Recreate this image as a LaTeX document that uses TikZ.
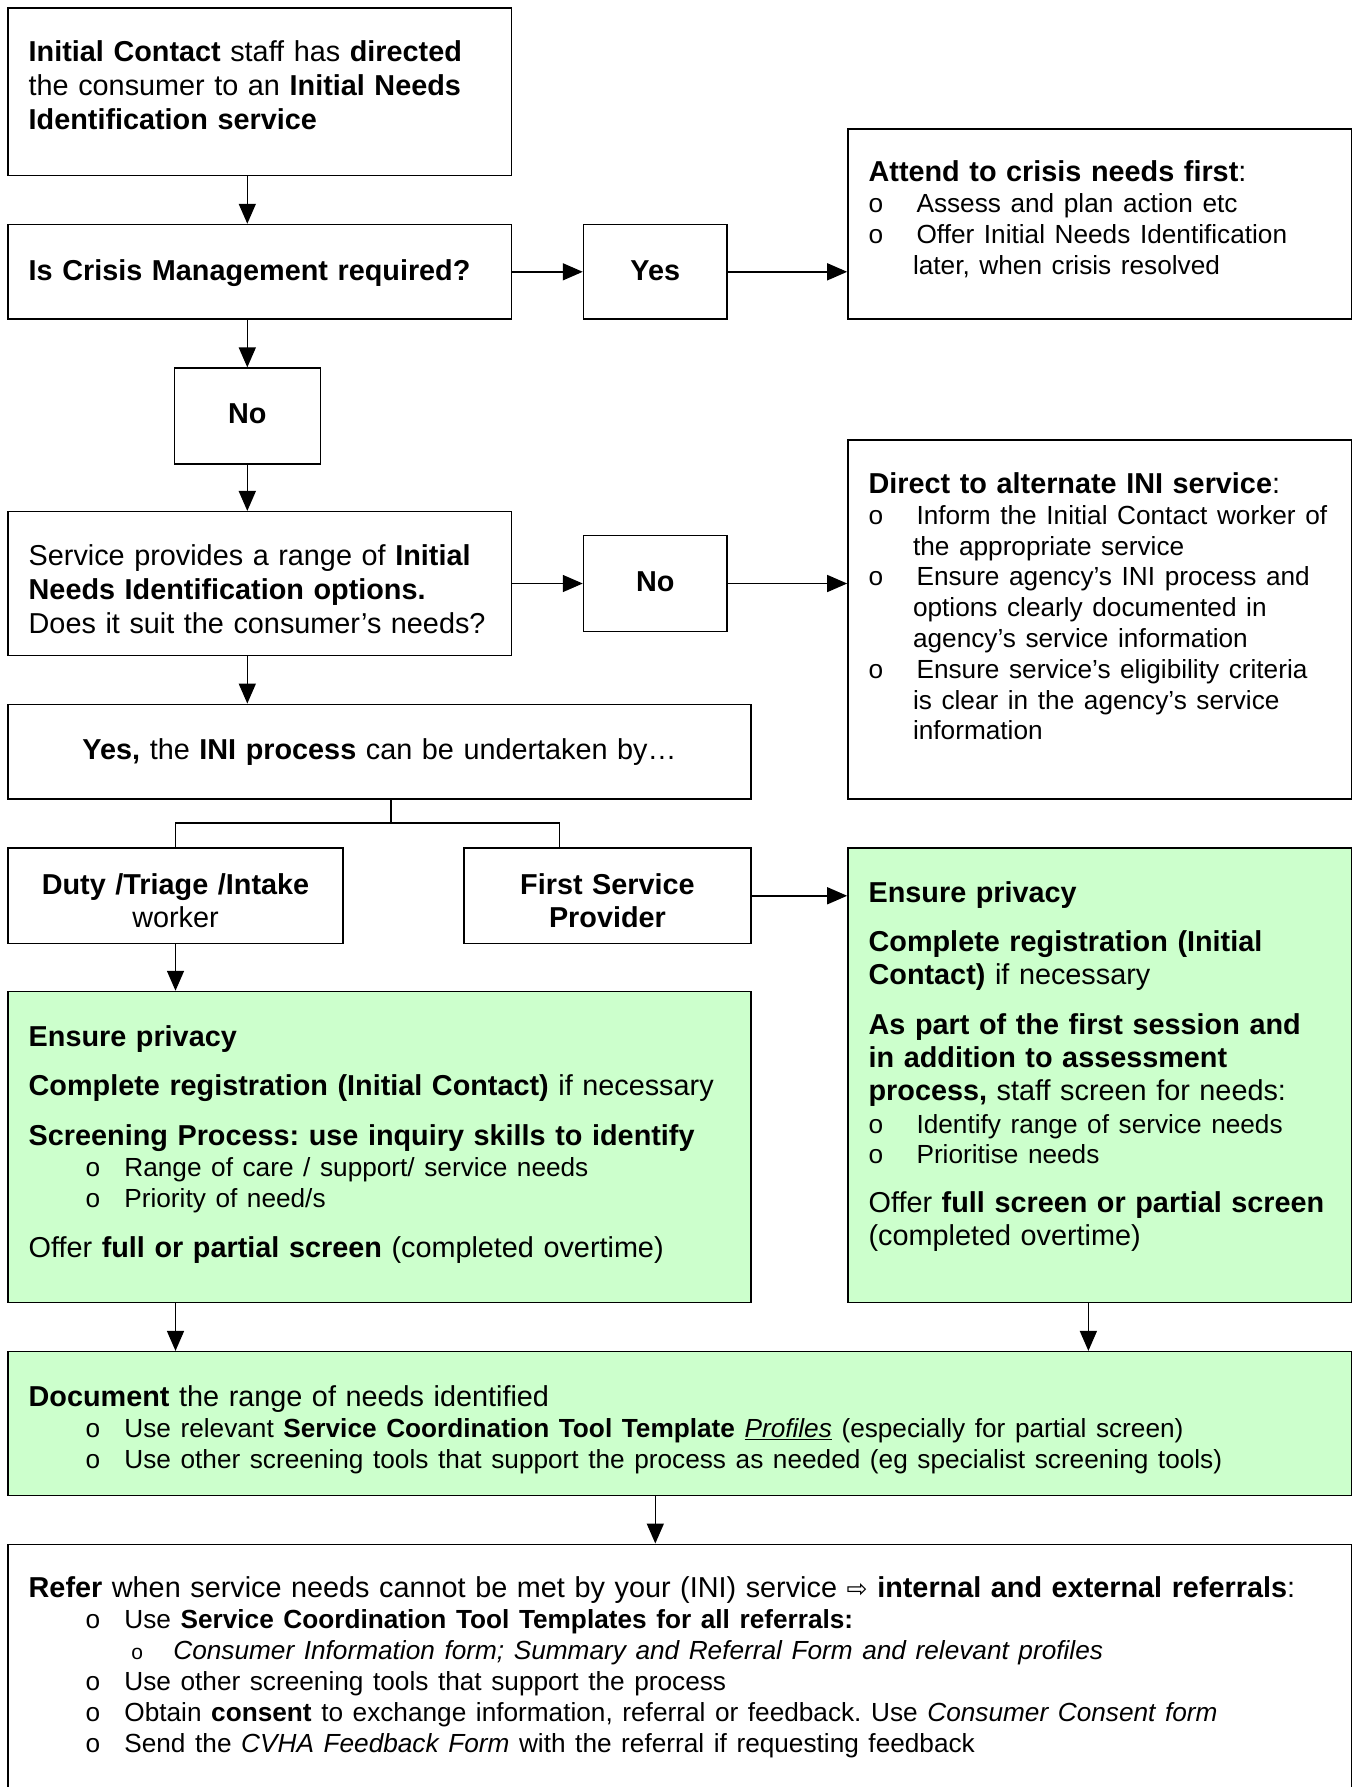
\documentclass[tikz,border=0pt]{standalone}
\usepackage{fontspec}
\setmainfont{Liberation Sans}
\newfontfamily\symfont{DejaVu Sans}
\usetikzlibrary{arrows.meta,fit}
\definecolor{boxgreen}{HTML}{CCFFCC}
\frenchspacing
\newcommand{\ls}{\fontsize{26.2}{31}\selectfont}
\newcommand{\itA}[1]{{\ls\makebox[47.9pt][l]{o}#1}}
\newcommand{\ctA}[1]{{\ls\hspace*{44.4pt}#1}}
\newcommand{\itB}[1]{{\ls\hspace*{57pt}\makebox[38.7pt][l]{o}#1}}
\newcommand{\itC}[1]{{\ls\hspace*{102.6pt}\makebox[42.1pt][l]{\fontsize{21}{21}\selectfont o}#1}}
\begin{document}
\begin{tikzpicture}[x=1.1395pt,y=-1.1395pt,
  box/.style={draw=black,line width=1.5pt,inner sep=0pt},
  gbox/.style={box,fill=boxgreen},
  arr/.style={line width=1.5pt,-{Triangle[length=20pt,width=17pt]}},
  link/.style={line width=1.5pt},
  ltxt/.style={inner sep=0pt,anchor=base west,align=left,text width=2000pt,font=\fontsize{28.8}{#1}\selectfont},
  ltxt/.default=31pt,
  ctxt/.style={inner sep=0pt,anchor=base,align=center,font=\fontsize{28.8}{33}\selectfont},
]
\useasboundingbox[fill=white] (0,0) rectangle (1190,1568);

% boxes
\node[box,fit={(7,7)(449,154)}] (b1) {};
\node[box,fit={(7,197)(449,280)}] (b2) {};
\node[box,fit={(512,197)(638,280)}] (b3) {};
\node[box,fit={(744,113)(1186,280)}] (b4) {};
\node[box,fit={(153,323)(281,407)}] (n1) {};
\node[box,fit={(7,449)(449,575)}] (b6) {};
\node[box,fit={(512,470)(638,554)}] (n2) {};
\node[box,fit={(744,386)(1186,701)}] (b8) {};
\node[box,fit={(7,618)(659,701)}] (b9) {};
\node[box,fit={(7,744)(301,828)}] (b10) {};
\node[box,fit={(407,744)(659,828)}] (b11) {};
\node[gbox,fit={(7,870)(659,1143)}] (b12) {};
\node[gbox,fit={(744,744)(1186,1143)}] (b13) {};
\node[gbox,fit={(7,1186)(1186,1312)}] (b14) {};
\node[box,fit={(7,1355)(1186,1600)}] (b15) {};

% texts
\node[ltxt=34.2pt] (t1) at (25,54) {\textbf{Initial Contact} staff has \textbf{directed}\\the consumer to an \textbf{Initial Needs}\\\textbf{Identification service}};
\node[ltxt] (t2) at (25,246) {\textbf{Is Crisis Management required?}};
\node[ctxt,text width=120pt] (t3) at (575,246) {\textbf{Yes}};
\node[ltxt=31.1pt] (t4) at (762,159) {\textbf{Attend to crisis needs first}:\\\itA{Assess and plan action etc}\\\itA{Offer Initial Needs Identification}\\\ctA{later, when crisis resolved}};
\node[ctxt,text width=120pt] (t5) at (217,372) {\textbf{No}};
\node[ltxt=34.2pt] (t6) at (25,496) {Service provides a range of \textbf{Initial}\\\textbf{Needs Identification options.}\\Does it suit the consumer’s needs?};
\node[ctxt,text width=120pt] (t7) at (575,519) {\textbf{No}};
\node[ltxt=30.8pt] (t8) at (762,433) {\textbf{Direct to alternate INI service}:\\\itA{Inform the Initial Contact worker of}\\\ctA{the appropriate service}\\\itA{Ensure agency’s INI process and}\\\ctA{options clearly documented in}\\\ctA{agency’s service information}\\\itA{Ensure service’s eligibility criteria}\\\ctA{is clear in the agency’s service}\\\ctA{information}};
\node[ctxt,text width=700pt] (t9) at (333,666) {\textbf{Yes,} the \textbf{INI process} can be undertaken by…};
\node[ctxt,text width=320pt] (t10) at (154,785) {\textbf{Duty /Triage /Intake}\\worker};
\node[ctxt,text width=280pt] (t11) at (533,785) {\textbf{First Service}\\\textbf{Provider}};
\node[ltxt=31pt] (t12) at (25,918) {\textbf{Ensure privacy}\\[18pt]\textbf{Complete registration (Initial Contact)} if necessary\\[19pt]\textbf{Screening Process: use inquiry skills to identify}\\\itB{Range of care / support/ service needs}\\\itB{Priority of need/s}\\[19pt]Offer \textbf{full or partial screen} (completed overtime)};
\node[ltxt=33pt] (t13) at (762,792) {\textbf{Ensure privacy}\\[16pt]\textbf{Complete registration (Initial}\\\textbf{Contact)} if necessary\\[17pt]\textbf{As part of the first session and}\\\textbf{in addition to assessment}\\\textbf{process,} staff screen for needs:\\\itA{Identify range of service needs}\\[-3pt]\itA{Prioritise needs}\\[16pt]Offer \textbf{full screen or partial screen}\\(completed overtime)};
\node[ltxt=31.3pt] (t14) at (25,1234) {\textbf{Document} the range of needs identified\\\itB{Use relevant \textbf{Service Coordination Tool Template} \underline{\textit{Profiles}} (especially for partial screen)}\\\itB{Use other screening tools that support the process as needed (eg specialist screening tools)}};
\node[ltxt=31pt] (t15) at (25,1402) {\textbf{Refer} when service needs cannot be met by your (INI) service {\symfont\fontsize{25}{25}\selectfont ⇨} \textbf{internal and external referrals}:\\\itB{Use \textbf{Service Coordination Tool Templates for all referrals:}}\\\itC{\textit{Consumer Information form; Summary and Referral Form and relevant profiles}}\\\itB{Use other screening tools that support the process}\\\itB{Obtain \textbf{consent} to exchange information, referral or feedback. Use \textit{Consumer Consent form}}\\\itB{Send the \textit{CVHA Feedback Form} with the referral if requesting feedback}};

% connectors
\coordinate (jc) at (343,722);
\coordinate (jr) at (491,722);
\coordinate (xr) at (955,0);
\coordinate (xd) at (575,0);
\draw[arr] (b1.south -| n1) -- (b2.north -| n1);
\draw[arr] (b2.east) -- (b3.west);
\draw[arr] (b3.east) -- (b3.east -| b4.west);
\draw[arr] (b2.south -| n1) -- (n1.north);
\draw[arr] (n1.south) -- (n1.south |- b6.north);
\draw[arr] (b6.east) -- (b6.east -| n2.west);
\draw[arr] (n2.east) -- (n2.east -| b8.west);
\draw[arr] (b6.south -| n1) -- (b9.north -| n1);
\draw[link] (b9.south -| jc) -- (jc);
\draw[link] (b10.north) |- (jr) -- (jr |- b11.north);
\draw[arr] (b11.east) -- (b11.east -| b13.west);
\draw[arr] (b10.south) -- (b10.south |- b12.north);
\draw[arr] (b12.south -| b10) -- (b14.north -| b10);
\draw[arr] (b13.south -| xr) -- (b14.north -| xr);
\draw[arr] (b14.south -| xd) -- (b15.north -| xd);
\end{tikzpicture}
\end{document}
